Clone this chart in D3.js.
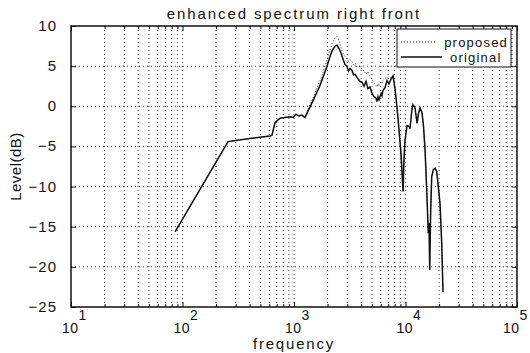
<!DOCTYPE html>
<html>
<head>
<meta charset="utf-8">
<script src="https://cdn.jsdelivr.net/npm/d3@7"></script>
<style>
  body{margin:0;background:#fff;}
  #chart{width:530px;height:353px;}
  text{font-family:"Liberation Sans",Arial,sans-serif;fill:#111;}
</style>
</head>
<body>
<div id="chart"></div>
<script>
// frequency points (Hz)
const freqs = [86,256,403,609,635,676,749,829,920,979,1042,1109,1180,1255,1336,1480,1575,1710,1820,1977,
  2103,2193,2333,2432,2535,2643,2750,2867,2987,3080,3175,3310,3420,3524,3673,3908,4074,4246,4424,4610,4804,5006,
  5218,5438,5548,5660,5783,6028,6150,6283,6549,6826,7115,7416,7730,8057,8398,8753,9124,9510,9694,9913,10315,10750,
  10975,11436,11680,12175,12690,13085,13490,14060,14502,14975,15497,16013,16270,16482,16827,17180,17756,
  18410,19044,19685,20393,21124,21690];

const original = [-15.6,-4.4,-4.0,-3.7,-3.6,-2.0,-1.5,-1.4,-1.3,-1.4,-1.0,-1.2,-1.1,-1.4,-0.6,0.7,1.5,2.6,3.6,5.0,
  6.2,6.9,7.5,7.6,7.2,6.6,5.9,5.2,5.0,4.4,4.7,4.5,3.9,4.0,3.6,3.1,3.0,2.5,3.1,2.2,2.4,1.6,
  1.2,1.0,0.6,1.2,0.8,1.6,1.3,2.0,2.3,3.2,2.8,3.4,3.8,2.2,-0.2,-3.0,-6.0,-10.6,-6.5,-4.2,-2.4,-2.5,
  -2.8,-0.3,0.2,-0.2,-2.1,-0.9,-0.2,-0.8,-2.5,-5.4,-10.4,-15.8,-14.5,-20.4,-12.9,-8.8,-7.9,
  -7.7,-8.1,-10.0,-12.1,-17.1,-23.1];

const proposed = [-15.6,-4.4,-4.0,-3.7,-3.6,-2.0,-1.5,-1.4,-1.3,-1.4,-1.0,-1.2,-1.1,-1.5,-0.4,1.0,2.0,3.2,4.2,5.8,
  7.0,7.8,8.5,8.7,8.2,7.3,6.6,6.2,5.9,5.6,5.8,5.6,5.2,5.4,4.9,5.0,4.6,4.4,4.0,4.3,3.8,3.3,
  2.9,2.6,2.4,2.8,2.5,3.0,2.8,3.2,3.5,3.6,3.4,3.6,3.8,2.2,-0.2,-3.0,-6.0,-10.6,-6.5,-4.2,-2.4,-2.5,
  -2.8,-0.3,0.2,-0.2,-2.1,-0.9,-0.2,-0.8,-2.5,-5.4,-10.4,-15.8,-14.5,-20.4,-12.9,-8.8,-7.9,
  -7.7,-8.1,-10.0,-12.1,-17.1,-23.1];

const yTicks = [10,5,0,-5,-10,-15,-20,-25];
const xDecades = [1,2,3,4,5];
const seriesNames = ['proposed','original'];

class SpectrumChart{
  constructor(opts){
    this.conEl = opts.conEl;
    this.draw();
  }
  draw(){
    this.margin = {top:26, right:13, bottom:46, left:71};
    this.width = 530 - this.margin.left - this.margin.right;
    this.height = 353 - this.margin.top - this.margin.bottom;

    const svg = d3.select('#'+this.conEl.id).append('svg')
                  .attr('width',530)
                  .attr('height',353);
    this.svg = svg;

    this.plot = svg.append('g')
                   .attr('transform','translate('+this.margin.left+','+this.margin.top+')');

    this.createScales();
    this.createGrid();
    this.addLines();
    this.createAxis();
    this.addLabels();
    this.addLegend();
  }
  createScales(){
    this.xScale = d3.scaleLog()
                    .domain([10,1e5])
                    .range([0,this.width]);
    this.yScale = d3.scaleLinear()
                    .domain([-25,10])
                    .range([this.height,0]);
  }
  createGrid(){
    const xs = [];
    for(let d=1; d<5; d++){
      for(let k=1; k<10; k++){ xs.push(k*Math.pow(10,d)); }
    }
    this.allX = xs;
    const grid = this.plot.append('g').attr('class','grid');
    grid.selectAll('line.gx').data(xs.filter(v => v>10)).enter()
        .append('line')
        .attr('x1',d => this.xScale(d)).attr('x2',d => this.xScale(d))
        .attr('y1',0).attr('y2',this.height)
        .attr('stroke','#333').attr('stroke-width',1).attr('stroke-dasharray','1,3');
    grid.selectAll('line.gy').data(yTicks.filter(v => v>-25 && v<10)).enter()
        .append('line')
        .attr('x1',0).attr('x2',this.width)
        .attr('y1',d => this.yScale(d)).attr('y2',d => this.yScale(d))
        .attr('stroke','#333').attr('stroke-width',1).attr('stroke-dasharray','1,3');
  }
  addLines(){
    const rows = freqs.map((f,i) => ({f:f, o:original[i], p:proposed[i]}));
    const lineP = d3.line().x(d => this.xScale(d.f)).y(d => this.yScale(d.p));
    const lineO = d3.line().x(d => this.xScale(d.f)).y(d => this.yScale(d.o));
    this.plot.append('path').datum(rows)
        .attr('d',lineP).attr('fill','none')
        .attr('stroke','#222').attr('stroke-width',1).attr('stroke-dasharray','1,2');
    this.plot.append('path').datum(rows)
        .attr('d',lineO).attr('fill','none')
        .attr('stroke','#111').attr('stroke-width',1.5);
  }
  createAxis(){
    const decadeVals = xDecades.map(e => Math.pow(10,e));
    const minorVals = this.allX.filter(v => decadeVals.indexOf(v)<0);

    const bottom = this.plot.append('g').attr('transform','translate(0,'+this.height+')');
    bottom.call(d3.axisBottom(this.xScale).tickValues(decadeVals).tickSize(-5).tickFormat(''));
    bottom.append('g').call(d3.axisBottom(this.xScale).tickValues(minorVals).tickSize(-3).tickFormat(''));

    const top = this.plot.append('g');
    top.call(d3.axisTop(this.xScale).tickValues(decadeVals).tickSize(-5).tickFormat(''));
    top.append('g').call(d3.axisTop(this.xScale).tickValues(minorVals).tickSize(-3).tickFormat(''));

    const left = this.plot.append('g');
    left.call(d3.axisLeft(this.yScale).tickValues(yTicks).tickSize(-5).tickFormat(''));
    const right = this.plot.append('g').attr('transform','translate('+this.width+',0)');
    right.call(d3.axisRight(this.yScale).tickValues(yTicks).tickSize(-5).tickFormat(''));

    this.plot.selectAll('.domain').remove();
    this.plot.selectAll('.tick line').attr('stroke','#111');

    this.plot.append('rect')
        .attr('x',0).attr('y',0)
        .attr('width',this.width).attr('height',this.height)
        .attr('fill','none').attr('stroke','#111').attr('stroke-width',1.5);

    // y tick labels
    this.plot.selectAll('text.ylab').data(yTicks).enter()
        .append('text')
        .attr('x',-14)
        .attr('y',d => this.yScale(d)+5)
        .attr('text-anchor','end')
        .attr('font-size',15)
        .attr('letter-spacing',1)
        .text(d => d<0 ? '\u2212'+Math.abs(d) : d);

    // x tick labels: 10 with exponent, one text element each
    const xl = this.plot.selectAll('text.xlab').data(xDecades).enter()
        .append('text')
        .attr('class','xlab')
        .attr('x',d => this.xScale(Math.pow(10,d)) - (d===5 ? 14 : 9))
        .attr('y',this.height+26)
        .attr('font-size',14);
    xl.append('tspan')
      .attr('letter-spacing',0.5)
      .text('10');
    xl.append('tspan')
      .attr('dy',-13)
      .text(d => d);
  }
  addLabels(){
    this.svg.append('text')
        .attr('x',this.margin.left+this.width/2)
        .attr('y',19)
        .attr('text-anchor','middle')
        .attr('font-size',15)
        .attr('letter-spacing',1.9)
        .text('enhanced spectrum right front');
    this.svg.append('text')
        .attr('x',this.margin.left+this.width/2)
        .attr('y',349)
        .attr('text-anchor','middle')
        .attr('font-size',15)
        .attr('letter-spacing',1.8)
        .text('frequency');
    this.svg.append('text')
        .attr('transform','translate(21,'+(this.margin.top+this.height/2)+') rotate(-90)')
        .attr('text-anchor','middle')
        .attr('font-size',15)
        .attr('letter-spacing',0.5)
        .text('Level(dB)');
  }
  addLegend(){
    const lg = this.plot.append('g')
        .attr('class','legend')
        .attr('transform','translate('+(this.width-120)+',3)');
    lg.append('rect')
      .attr('x',0).attr('y',0).attr('width',114).attr('height',38)
      .attr('fill','#fff').attr('stroke','#111').attr('stroke-width',1);
    const items = lg.selectAll('g.item').data(seriesNames).enter()
        .append('g')
        .attr('transform',(d,i) => 'translate(0,'+(13+i*15)+')');
    items.append('line')
        .attr('x1',4).attr('x2',d => d==='proposed'?40:45)
        .attr('y1',0).attr('y2',0)
        .attr('stroke','#111')
        .attr('stroke-width',d => d==='proposed'?1:1.5)
        .attr('stroke-dasharray',d => d==='proposed'?'1,2':null);
    items.append('text')
        .attr('x',d => d==='proposed'?111:53)
        .attr('y',5)
        .attr('text-anchor',d => d==='proposed'?'end':'start')
        .attr('font-size',13)
        .attr('letter-spacing',1.2)
        .text(d => d);
  }
}

new SpectrumChart({conEl:document.getElementById('chart')});
</script>
</body>
</html>
